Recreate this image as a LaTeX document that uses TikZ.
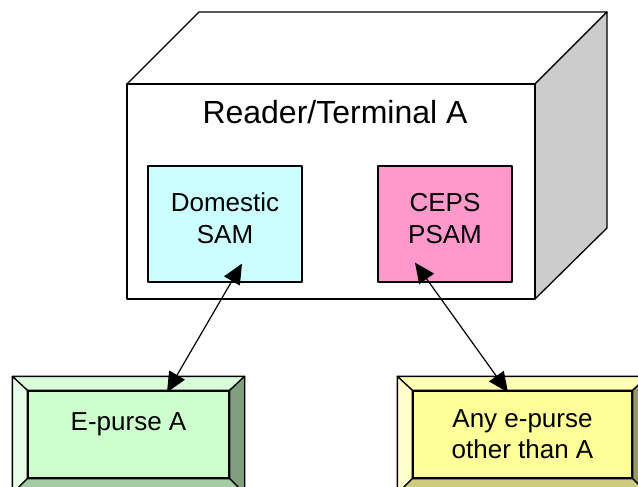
\documentclass[tikz,border=0pt]{standalone}
\usepackage{fontspec}
\setmainfont{Liberation Sans}
\usetikzlibrary{arrows.meta, positioning, calc}

\definecolor{samcyan}{HTML}{CCFFFF}
\definecolor{psampink}{HTML}{FF99CC}
\definecolor{sidegray}{HTML}{CCCCCC}
% bevel colours, green button
\definecolor{innerep}{HTML}{CCFFCC}
\definecolor{topep}{HTML}{D9FFD9}
\definecolor{leftep}{HTML}{E6FFE6}
\definecolor{rightep}{HTML}{7F9F7F}
\definecolor{bottomep}{HTML}{A3CCA3}
% bevel colours, yellow button
\definecolor{innerany}{HTML}{FFFF99}
\definecolor{topany}{HTML}{FFFFB3}
\definecolor{leftany}{HTML}{FFFFCC}
\definecolor{rightany}{HTML}{999966}
\definecolor{bottomany}{HTML}{CCCC7A}

\begin{document}
\begin{tikzpicture}[x=1pt, y=-1pt, line width=1.3pt, line join=round,
    samstyle/.style={draw, minimum width=154pt, minimum height=116pt, align=center,
        text depth=12pt, font=\fontsize{26}{32}\selectfont},
    purse/.style={draw, minimum height=87pt, align=center,
        font=\fontsize{26}{31}\selectfont},
    link/.style={{Triangle[length=20pt,width=18pt]}-{Triangle[length=20pt,width=18pt]}, line width=1.2pt}]
    \useasboundingbox (0,0) rectangle (638,487);
    \clip (0,0) rectangle (638,487);

    % the terminal as a box
    \draw[fill=white] (127,84) -- (199,12) -- (607,12) -- (535,84) -- cycle;
    \draw[fill=sidegray] (535,84) -- (607,12) -- (607,228) -- (535,299) -- cycle;
    \draw[fill=white] (127,84) rectangle (535,299);
    \node[font=\fontsize{32}{38}\selectfont] (reader) at (335,112) {Reader/Terminal A};

    % the two SAMs
    \node[samstyle, fill=samcyan] (dsam) at (225,224) {Domestic\\SAM};
    \node[samstyle, fill=psampink, minimum width=134pt] (psam) at (445,224) {CEPS\\PSAM};

    % the purses, with bevelled frames
    \node[purse, fill=innerep, minimum width=201pt] (epurse) at (128.5,434.5) {};
    \node[font=\fontsize{26}{31}\selectfont] (epursetxt) at (128.5,424) {E-purse A};
    \node[purse, fill=innerany, minimum width=219pt] (anyep) at (522.5,434.5) {Any e-purse\\other than A};

    \foreach \b/\c in {epurse/ep, anyep/any} {
        \coordinate (onw) at ($(\b.north west)+(-15,-14)$);
        \coordinate (one) at ($(\b.north east)+(15,-14)$);
        \coordinate (osw) at ($(\b.south west)+(-15,15)$);
        \coordinate (ose) at ($(\b.south east)+(15,15)$);
        \draw[fill=top\c] (onw) -- (one) -- (\b.north east) -- (\b.north west) -- cycle;
        \draw[fill=left\c] (onw) -- (\b.north west) -- (\b.south west) -- (osw) -- cycle;
        \draw[fill=right\c] (one) -- (ose) -- (\b.south east) -- (\b.north east) -- cycle;
        \draw[fill=bottom\c] (osw) -- (\b.south west) -- (\b.south east) -- (ose) -- cycle;
    }

    % links between SAMs and purses
    \coordinate (dsamend) at ($(dsam.south)+(17,-19)$);
    \coordinate (psamend) at ($(psam.south)+(-30,-20)$);
    \coordinate (epurseend) at ($(epurse.north)+(38.5,2)$);
    \coordinate (anyepend) at ($(anyep.north)+(-14.5,2)$);
    \draw[link] (dsamend) -- (epurseend);
    \draw[link] (psamend) -- (anyepend);
\end{tikzpicture}
\end{document}
